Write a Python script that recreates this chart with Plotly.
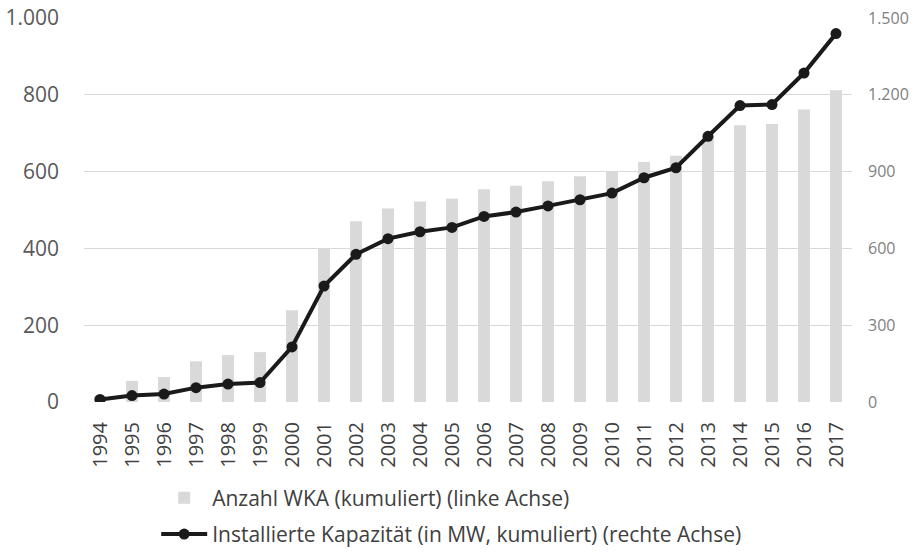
import plotly.graph_objects as go

years = ["1994", "1995", "1996", "1997", "1998", "1999", "2000", "2001",
         "2002", "2003", "2004", "2005", "2006", "2007", "2008", "2009",
         "2010", "2011", "2012", "2013", "2014", "2015", "2016", "2017"]

anzahl_wka = [15, 55, 65, 106, 122, 130, 239, 399, 471, 504, 522, 529,
              554, 563, 575, 588, 600, 625, 641, 690, 721, 724, 762, 812]

kapazitaet_mw = [10, 25, 31, 56, 70, 76, 215, 453, 577, 638, 665, 682,
                 725, 742, 766, 790, 816, 876, 915, 1038, 1158, 1162, 1285, 1439]

left_ticks = [0, 200, 400, 600, 800, 1000]
right_ticks = [0, 300, 600, 900, 1200, 1500]

FONT = "Open Sans"

fig = go.Figure()

fig.add_trace(go.Bar(
    x=years, y=anzahl_wka,
    name="Anzahl WKA (kumuliert) (linke Achse)",
    marker=dict(color="#d9d9d9", line=dict(width=0)),
    width=0.375,
    legendgroup="a",
    yaxis="y",
))

fig.add_trace(go.Scatter(
    x=years, y=kapazitaet_mw,
    name="Installierte Kapazität (in MW, kumuliert) (rechte Achse)",
    mode="lines+markers",
    line=dict(color="#1a1a1a", width=4),
    marker=dict(color="#1a1a1a", size=11),
    legendgroup="b",
    yaxis="y2",
))

fig.update_layout(
    template="none",
    width=915, height=552,
    autosize=False,
    margin=dict(l=84, r=63, t=18, b=150, pad=0, autoexpand=False),
    paper_bgcolor="white", plot_bgcolor="white",
    separators=",.",
    font=dict(family=FONT, color="#404040"),
    xaxis=dict(
        type="category",
        range=[-0.5, 23.5],
        tickangle=-90,
        tickfont=dict(size=20, color="#404040", family=FONT),
        showgrid=False, zeroline=False, showline=False,
        ticks="", ticklabelstandoff=15,
        automargin=False,
    ),
    yaxis=dict(
        range=[0, 1000],
        tickvals=left_ticks,
        tickformat=",",
        tickfont=dict(size=21, color="#595959", family=FONT),
        showgrid=True, gridcolor="#d9d9d9", gridwidth=1,
        zeroline=False, showline=False, ticks="",
        ticklabelstandoff=24,
        automargin=False,
    ),
    yaxis2=dict(
        range=[0, 1500],
        tickvals=right_ticks,
        tickformat=",",
        overlaying="y", side="right",
        tickfont=dict(size=16, color="#7f7f7f", family=FONT),
        showgrid=False, zeroline=False, showline=False, ticks="",
        ticklabelstandoff=15,
        automargin=False,
    ),
    legend=dict(
        orientation="v",
        x=0.094, xanchor="left",
        y=-0.197, yanchor="top",
        font=dict(size=21, color="#404040", family=FONT),
        traceorder="grouped",
        tracegroupgap=6,
        itemwidth=46,
        bgcolor="rgba(0,0,0,0)",
    ),
    showlegend=True,
)

fig.write_html("out.html",
               config={"displayModeBar": False},
               post_script="document.body.style.margin='0';")
